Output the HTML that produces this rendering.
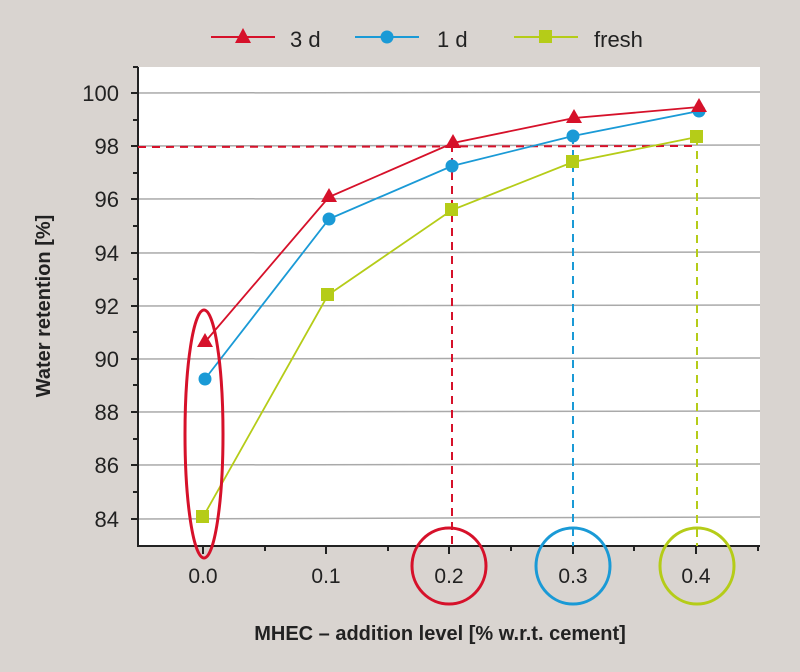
<!DOCTYPE html><html><head><style>body{margin:0;background:#d9d4d0}svg{display:block}text{font-family:"Liberation Sans",sans-serif;fill:#222}</style></head><body>
<svg width="800" height="672" viewBox="0 0 800 672">
<rect width="800" height="672" fill="#d9d4d0"/>
<rect x="138" y="67" width="622" height="479" fill="#fff"/>
<g stroke="#aaa" stroke-width="1.5">
<line x1="138" y1="93" x2="760" y2="92"/><line x1="138" y1="146" x2="760" y2="145"/><line x1="138" y1="199" x2="760" y2="198"/><line x1="138" y1="253" x2="760" y2="252"/><line x1="138" y1="306" x2="760" y2="305"/><line x1="138" y1="359" x2="760" y2="358"/><line x1="138" y1="412" x2="760" y2="411"/><line x1="138" y1="465" x2="760" y2="464"/><line x1="138" y1="519" x2="760" y2="517"/>
</g>
<g stroke="#222" stroke-width="2">
<line x1="138" y1="67" x2="138" y2="547"/><line x1="137" y1="546" x2="760" y2="546"/>
<line x1="131" y1="93" x2="138" y2="93"/><line x1="131" y1="146" x2="138" y2="146"/><line x1="131" y1="199" x2="138" y2="199"/><line x1="131" y1="253" x2="138" y2="253"/><line x1="131" y1="306" x2="138" y2="306"/><line x1="131" y1="359" x2="138" y2="359"/><line x1="131" y1="412" x2="138" y2="412"/><line x1="131" y1="465" x2="138" y2="465"/><line x1="131" y1="519" x2="138" y2="519"/>
<line x1="133" y1="67" x2="138" y2="67"/><line x1="133" y1="120" x2="138" y2="120"/><line x1="133" y1="173" x2="138" y2="173"/><line x1="133" y1="226" x2="138" y2="226"/><line x1="133" y1="279" x2="138" y2="279"/><line x1="133" y1="332" x2="138" y2="332"/><line x1="133" y1="385" x2="138" y2="385"/><line x1="133" y1="439" x2="138" y2="439"/><line x1="133" y1="492" x2="138" y2="492"/>
<line x1="203" y1="546" x2="203" y2="554"/><line x1="326" y1="546" x2="326" y2="554"/><line x1="449" y1="546" x2="449" y2="554"/><line x1="573" y1="546" x2="573" y2="554"/><line x1="696" y1="546" x2="696" y2="554"/>
<line x1="265" y1="546" x2="265" y2="551"/><line x1="388" y1="546" x2="388" y2="551"/><line x1="511" y1="546" x2="511" y2="551"/><line x1="634" y1="546" x2="634" y2="551"/><line x1="758" y1="546" x2="758" y2="551"/>
</g>
<g font-size="22" text-anchor="end">
<text x="119" y="101">100</text><text x="119" y="154">98</text><text x="119" y="207">96</text><text x="119" y="261">94</text><text x="119" y="314">92</text><text x="119" y="367">90</text><text x="119" y="420">88</text><text x="119" y="473">86</text><text x="119" y="527">84</text>
</g>
<g font-size="21" text-anchor="middle">
<text x="203" y="583">0.0</text><text x="326" y="583">0.1</text><text x="449" y="583">0.2</text><text x="573" y="583">0.3</text><text x="696" y="583">0.4</text>
</g>
<text x="440" y="640" font-size="20" font-weight="bold" text-anchor="middle">MHEC – addition level [% w.r.t. cement]</text>
<text transform="translate(50,306) rotate(-90)" font-size="20" font-weight="bold" text-anchor="middle">Water retention [%]</text>
<g stroke-width="2" stroke-dasharray="8,6" fill="none">
<line x1="138" y1="147" x2="697" y2="146" stroke="#d6112a"/>
<line x1="452" y1="144" x2="452" y2="546" stroke="#d6112a"/>
<line x1="573" y1="136" x2="573" y2="546" stroke="#1a9ad6"/>
<line x1="697" y1="137" x2="697" y2="546" stroke="#b5cc18"/>
</g>
<polyline fill="none" stroke="#b5cc18" stroke-width="1.8" points="203,517 328,295 452,210 573,162 697,137"/>
<polyline fill="none" stroke="#1a9ad6" stroke-width="1.8" points="205,379 329,219 452,166 573,136 699,111"/>
<polyline fill="none" stroke="#d6112a" stroke-width="1.8" points="205,342 329,197 453,143 574,118 699,107"/>
<g fill="#b5cc18"><rect x="196" y="510" width="13" height="13"/><rect x="321" y="288" width="13" height="13"/><rect x="445" y="203" width="13" height="13"/><rect x="566" y="155" width="13" height="13"/><rect x="690" y="130" width="13" height="13"/></g>
<g fill="#1a9ad6"><circle cx="205" cy="379" r="6.5"/><circle cx="329" cy="219" r="6.5"/><circle cx="452" cy="166" r="6.5"/><circle cx="573" cy="136" r="6.5"/><circle cx="699" cy="111" r="6.5"/></g>
<g fill="#d6112a"><polygon points="205,333 213,347 197,347"/><polygon points="329,188 337,202 321,202"/><polygon points="453,134 461,148 445,148"/><polygon points="574,109 582,123 566,123"/><polygon points="699,98 707,112 691,112"/></g>
<g fill="none" stroke-width="3">
<ellipse cx="204" cy="434" rx="19" ry="124" stroke="#d6112a"/>
<ellipse cx="449" cy="566" rx="37" ry="38" stroke="#d6112a"/>
<ellipse cx="573" cy="566" rx="37" ry="38" stroke="#1a9ad6"/>
<ellipse cx="697" cy="566" rx="37" ry="38" stroke="#b5cc18"/>
</g>
<line x1="211" y1="37" x2="275" y2="37" stroke="#d6112a" stroke-width="2"/><polygon points="243,28 251,43 235,43" fill="#d6112a"/>
<text x="290" y="47" font-size="22">3 d</text>
<line x1="355" y1="37" x2="419" y2="37" stroke="#1a9ad6" stroke-width="2"/><circle cx="387" cy="37" r="6.5" fill="#1a9ad6"/>
<text x="437" y="47" font-size="22">1 d</text>
<line x1="514" y1="37" x2="578" y2="37" stroke="#b5cc18" stroke-width="2"/><rect x="539" y="30" width="13" height="13" fill="#b5cc18"/>
<text x="594" y="47" font-size="22">fresh</text>
</svg></body></html>
